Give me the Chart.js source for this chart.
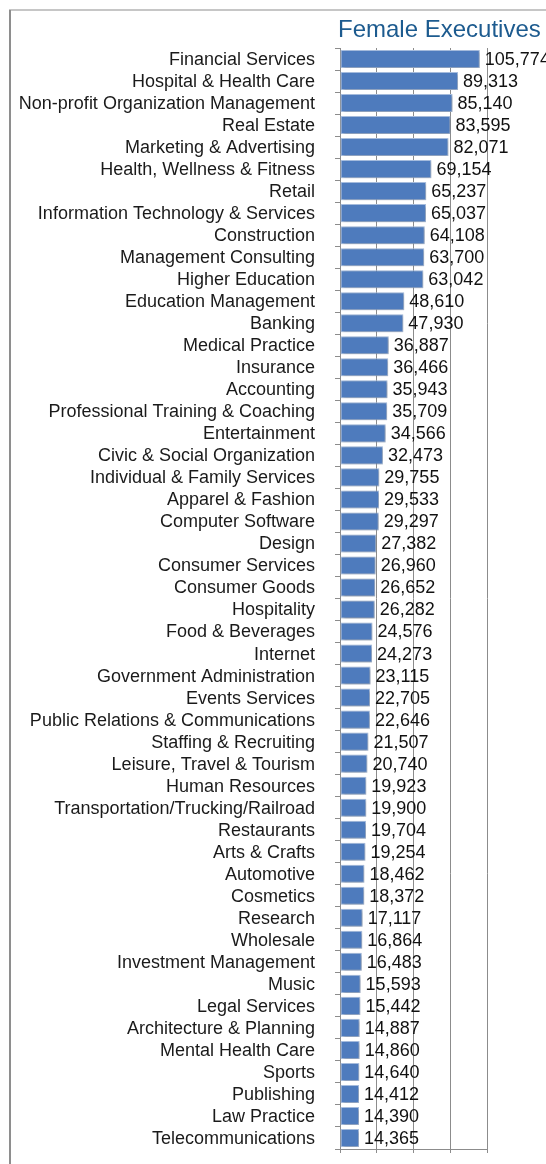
<!DOCTYPE html>
<html>
<head>
<meta charset="utf-8">
<title>Female Executives</title>
<script src="https://cdn.jsdelivr.net/npm/chart.js@4.4.1/dist/chart.umd.min.js"></script>
<style>
    html, body {
        margin: 0;
        padding: 0;
        background: #ffffff;
        overflow: hidden;
    }
    #wrap {
        position: relative;
        width: 546px;
        height: 1164px;
    }
    #executives-chart {
        display: block;
    }
    #frame-top {
        position: absolute;
        left: 9px;
        top: 9px;
        width: 537px;
        height: 2px;
        background: #c6c6c6;
    }
    #frame-left {
        position: absolute;
        left: 9px;
        top: 10px;
        width: 2px;
        height: 1154px;
        background: #8e8e8e;
    }
</style>
</head>
<body>
<div id="wrap">
    <canvas id="executives-chart" width="546" height="1164"></canvas>
    <div id="frame-top"></div>
    <div id="frame-left"></div>
</div>
<script>
// Industries, top to bottom
const industries = [
    'Financial Services', 'Hospital & Health Care', 'Non-profit Organization Management',
    'Real Estate', 'Marketing & Advertising', 'Health, Wellness & Fitness', 'Retail',
    'Information Technology & Services', 'Construction', 'Management Consulting',
    'Higher Education', 'Education Management', 'Banking', 'Medical Practice', 'Insurance',
    'Accounting', 'Professional Training & Coaching', 'Entertainment',
    'Civic & Social Organization', 'Individual & Family Services', 'Apparel & Fashion',
    'Computer Software', 'Design', 'Consumer Services', 'Consumer Goods', 'Hospitality',
    'Food & Beverages', 'Internet', 'Government Administration', 'Events Services',
    'Public Relations & Communications', 'Staffing & Recruiting', 'Leisure, Travel & Tourism',
    'Human Resources', 'Transportation/Trucking/Railroad', 'Restaurants', 'Arts & Crafts',
    'Automotive', 'Cosmetics', 'Research', 'Wholesale', 'Investment Management', 'Music',
    'Legal Services', 'Architecture & Planning', 'Mental Health Care', 'Sports',
    'Publishing', 'Law Practice', 'Telecommunications'
];

// Number of female executives per industry
const femaleExecutives = [
    105774, 89313, 85140, 83595, 82071, 69154, 65237, 65037, 64108, 63700,
    63042, 48610, 47930, 36887, 36466, 35943, 35709, 34566, 32473, 29755,
    29533, 29297, 27382, 26960, 26652, 26282, 24576, 24273, 23115, 22705,
    22646, 21507, 20740, 19923, 19900, 19704, 19254, 18462, 18372, 17117,
    16864, 16483, 15593, 15442, 14887, 14860, 14640, 14412, 14390, 14365
];

// Value axis range (no tick labels shown, only grid lines)
const axisMax = 111200;
const axisStep = 27800;

const chartTitle = 'Female Executives';

/**
 * Soft shadow under the bars
 */
const barShadow = {
    id: 'barShadow',
    beforeDatasetsDraw(chart) {
        const ctx = chart.ctx;
        ctx.save();
        ctx.shadowColor = 'rgba(0, 0, 0, 0.35)';
        ctx.shadowBlur = 3;
        ctx.shadowOffsetX = 1;
        ctx.shadowOffsetY = 1;
    },
    afterDatasetsDraw(chart) {
        chart.ctx.restore();
    }
};

/**
 * Value labels at the end of each bar, plus the title over the plot
 */
const valueLabels = {
    id: 'valueLabels',
    afterDraw(chart) {
        const ctx = chart.ctx;
        const meta = chart.getDatasetMeta(0);
        const data = chart.data.datasets[0].data;

        ctx.save();
        ctx.font = '18px "Liberation Sans", Arial, Helvetica, sans-serif';
        ctx.fillStyle = '#111111';
        ctx.textAlign = 'left';
        ctx.textBaseline = 'middle';
        meta.data.forEach(function(bar, i) {
            ctx.fillText(data[i].toLocaleString('en-US'), bar.x + 5, bar.y + 1);
        });

        // Title, left aligned with the plot area
        ctx.font = '24px "Liberation Sans", Arial, Helvetica, sans-serif';
        ctx.fillStyle = '#1d5b8f';
        ctx.textBaseline = 'alphabetic';
        ctx.fillText(chartTitle, chart.chartArea.left - 2, 37);
        ctx.restore();
    }
};

const ctx = document.getElementById('executives-chart').getContext('2d');

new Chart(ctx, {
    type: 'bar',
    data: {
        labels: industries,
        datasets: [{
            label: chartTitle,
            data: femaleExecutives,
            backgroundColor: '#4e7bbd',
            borderColor: '#aac1e3',
            borderWidth: 1,
            borderSkipped: false,
            barPercentage: 0.82,
            categoryPercentage: 1
        }]
    },
    options: {
        indexAxis: 'y',
        responsive: false,
        animation: false,
        layout: {
            padding: { top: 48, right: 59, bottom: 11, left: 0 }
        },
        plugins: {
            legend: { display: false },
            title: { display: false },
            tooltip: { enabled: false }
        },
        scales: {
            x: {
                min: 0,
                max: axisMax,
                afterFit: function(scale) {
                    scale.height = 4;
                    scale.paddingLeft = 0;
                    scale.paddingRight = 0;
                },
                ticks: {
                    display: false,
                    stepSize: axisStep
                },
                grid: {
                    color: '#8c8c8c',
                    lineWidth: 1,
                    drawTicks: true,
                    tickLength: 4
                },
                border: {
                    display: true,
                    color: '#8c8c8c'
                }
            },
            y: {
                afterFit: function(scale) {
                    scale.width = 340;
                    // labels may overhang the plot edges, the frame is fixed
                    scale.paddingTop = 0;
                    scale.paddingBottom = 0;
                },
                ticks: {
                    color: '#1a1a1a',
                    padding: 20,
                    labelOffset: 1,
                    autoSkip: false,
                    font: {
                        family: '"Liberation Sans", Arial, Helvetica, sans-serif',
                        size: 18
                    }
                },
                grid: {
                    drawOnChartArea: false,
                    color: '#8c8c8c',
                    tickLength: 5
                },
                border: {
                    display: true,
                    color: '#8c8c8c'
                }
            }
        }
    },
    plugins: [barShadow, valueLabels]
});
</script>
</body>
</html>
